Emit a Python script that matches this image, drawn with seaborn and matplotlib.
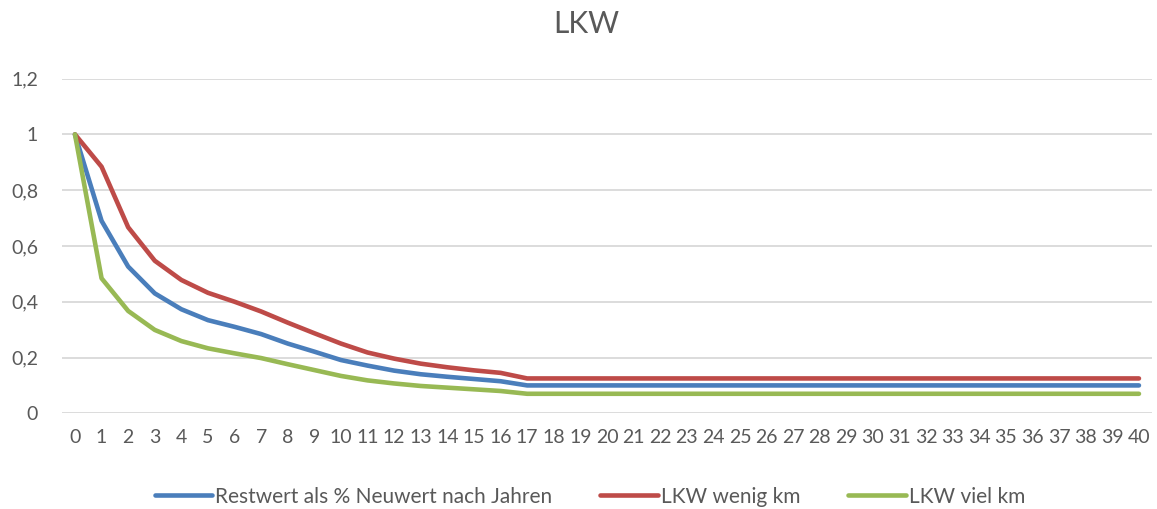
import numpy as np
import pandas as pd
import matplotlib
matplotlib.use("Agg")
import matplotlib.pyplot as plt
import seaborn as sns

# ── Data ────────────────────────────────────────────────────────────────────
years = list(range(0, 41))

restwert = [1.0, 0.69, 0.526, 0.43, 0.373, 0.334, 0.31, 0.284, 0.25, 0.221,
            0.191, 0.171, 0.153, 0.14, 0.131, 0.123, 0.115] + [0.1] * 24
wenig_km = [1.0, 0.884, 0.667, 0.547, 0.478, 0.432, 0.40, 0.365, 0.325, 0.287,
            0.25, 0.218, 0.196, 0.178, 0.165, 0.154, 0.145] + [0.125] * 24
viel_km = [1.0, 0.484, 0.367, 0.299, 0.259, 0.233, 0.215, 0.198, 0.176, 0.155,
           0.134, 0.118, 0.107, 0.098, 0.092, 0.086, 0.080] + [0.07] * 24

series_names = ["Restwert als % Neuwert nach Jahren", "LKW wenig km", "LKW viel km"]
y_ticks = [0, 0.2, 0.4, 0.6, 0.8, 1.0, 1.2]
y_tick_labels = ["0", "0,2", "0,4", "0,6", "0,8", "1", "1,2"]
title = "LKW"

# ── Styling ─────────────────────────────────────────────────────────────────
colors = ["#4A7EBB", "#BE4B48", "#98B954"]
text_col = "#595959"
grid_col = "#D9D9D9"

sns.set_theme(style="white")
plt.rcParams["font.family"] = ["Lato", "DejaVu Sans"]

df = pd.DataFrame({
    "Jahr": years * 3,
    "Wert": restwert + wenig_km + viel_km,
    "Serie": [series_names[0]] * len(years) + [series_names[1]] * len(years)
             + [series_names[2]] * len(years),
})

fig = plt.figure(figsize=(11.57, 5.09), dpi=100)
ax = fig.add_axes([0.0533, 0.188, 0.9426, 0.6576])

for y in y_ticks:
    ax.axhline(y, color=grid_col, lw=1.3, zorder=0)

sns.lineplot(data=df, x="Jahr", y="Wert", hue="Serie", hue_order=series_names,
             palette=colors, lw=3.3, ax=ax, legend=False,
             solid_capstyle="round", solid_joinstyle="round")

ax.set_xlim(-0.5, 40.5)
ax.set_ylim(0, 1.2)
ax.set_xticks(years)
ax.set_xticklabels([str(y) for y in years])
ax.set_yticks(y_ticks)
ax.set_yticklabels(y_tick_labels)
ax.tick_params(axis="x", length=0, pad=11, labelsize=14, colors=text_col)
ax.tick_params(axis="y", length=0, pad=17, labelsize=14, colors=text_col)
ax.set_xlabel("")
ax.set_ylabel("")
sns.despine(ax=ax, left=True, bottom=True)

fig.text(0.507, 0.953, title, ha="center", va="center", fontsize=21.5, color=text_col)

handles = [plt.Line2D([], [], color=c, lw=3.3, solid_capstyle="round") for c in colors]
leg = fig.legend(handles, series_names, loc="center", bbox_to_anchor=(0.51, 0.024),
                 ncol=3, frameon=False, fontsize=15, handlelength=2.75,
                 handletextpad=0.15, columnspacing=2.3, labelcolor=text_col)

fig.savefig("out.png", dpi=100)
plt.close(fig)
